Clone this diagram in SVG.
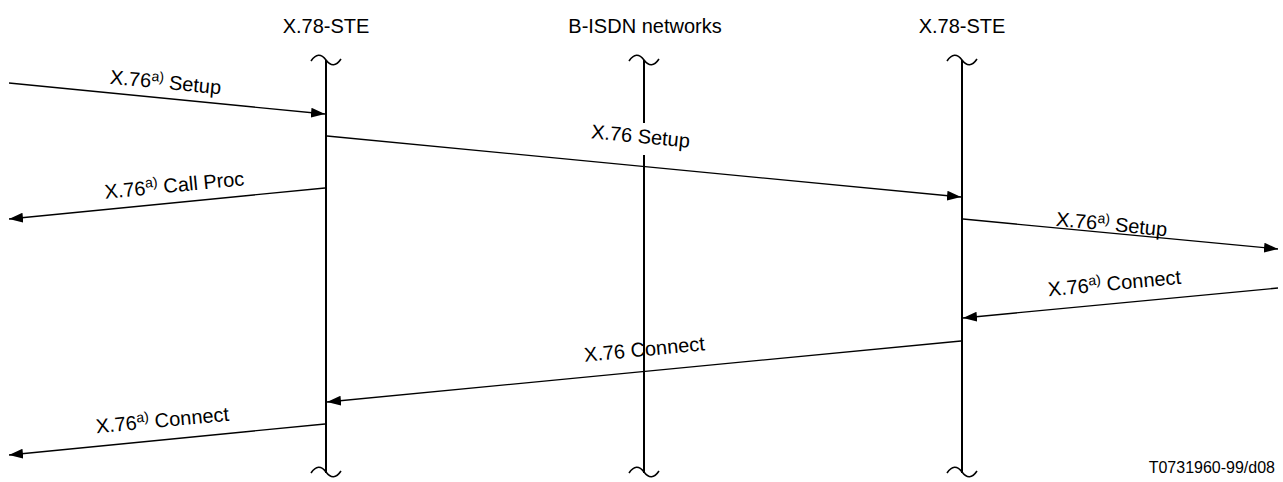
<svg xmlns="http://www.w3.org/2000/svg" width="1283" height="482" viewBox="0 0 1283 482">
<defs>
<marker id="ah" markerUnits="userSpaceOnUse" markerWidth="15" markerHeight="11" refX="14" refY="5.5" orient="auto">
<path d="M0,0.5 L14,5.5 L0,10.5 Z" fill="#000"/>
</marker>
<style>
text{font-family:"Liberation Sans",Arial,sans-serif;fill:#000}
.hdr{font-size:20px;text-anchor:middle}
.lbl{font-size:20px;text-anchor:middle}
.sup{font-size:14px}
.life{stroke:#000;stroke-width:2;fill:none}
.sq{stroke:#000;stroke-width:1.6;fill:none}
.msg{stroke:#000;stroke-width:1.3;fill:none;marker-end:url(#ah)}
</style>
</defs>
<rect width="1283" height="482" fill="#fff"/>
<g id="ste-left">
<text class="hdr" x="326" y="33">X.78-STE</text>
<path class="sq" d="M311,61 Q318.5,50 326,60 Q333.5,70 341,59"/>
<path class="life" d="M326,60 V473"/>
<path class="sq" d="M311,473 Q318.5,462 326,472 Q333.5,482 341,471"/>
</g>
<g id="bisdn">
<text class="hdr" x="645" y="33">B-ISDN networks</text>
<path class="sq" d="M629,61 Q636.5,50 644,60 Q651.5,70 659,59"/>
<path class="life" d="M644,60 V123 M644,155 V473"/>
<path class="sq" d="M629,473 Q636.5,462 644,472 Q651.5,482 659,471"/>
</g>
<g id="ste-right">
<text class="hdr" x="962" y="33">X.78-STE</text>
<path class="sq" d="M947,61 Q954.5,50 962,60 Q969.5,70 977,59"/>
<path class="life" d="M962,60 V473"/>
<path class="sq" d="M947,473 Q954.5,462 962,472 Q969.5,482 977,471"/>
</g>
<g id="connectors">
<line class="msg" x1="9" y1="83" x2="325" y2="114"/>
<line class="msg" x1="327" y1="136" x2="961" y2="197"/>
<line class="msg" x1="325" y1="188" x2="9" y2="219"/>
<line class="msg" x1="963" y1="219" x2="1278" y2="249"/>
<line class="msg" x1="1278" y1="288" x2="963" y2="318"/>
<line class="msg" x1="961" y1="341" x2="327" y2="402"/>
<line class="msg" x1="325" y1="424" x2="9" y2="455"/>
</g>
<g id="labels">
<text class="lbl" transform="translate(165,89) rotate(5.5)">X.76<tspan class="sup" dy="-7">a)</tspan><tspan dy="7"> Setup</tspan></text>
<text class="lbl" transform="translate(640,143) rotate(5.5)">X.76 Setup</text>
<text class="lbl" transform="translate(175,192) rotate(-5.6)">X.76<tspan class="sup" dy="-7">a)</tspan><tspan dy="7"> Call Proc</tspan></text>
<text class="lbl" transform="translate(1111,231) rotate(5.4)">X.76<tspan class="sup" dy="-7">a)</tspan><tspan dy="7"> Setup</tspan></text>
<text class="lbl" transform="translate(1115,290) rotate(-5.4)">X.76<tspan class="sup" dy="-7">a)</tspan><tspan dy="7"> Connect</tspan></text>
<text class="lbl" transform="translate(645,356) rotate(-5.5)">X.76 Connect</text>
<text class="lbl" transform="translate(163,427) rotate(-5.4)">X.76<tspan class="sup" dy="-7">a)</tspan><tspan dy="7"> Connect</tspan></text>
</g>
<text id="fig-id" x="1275" y="473" style="font-size:16px;text-anchor:end">T0731960-99/d08</text>
</svg>
